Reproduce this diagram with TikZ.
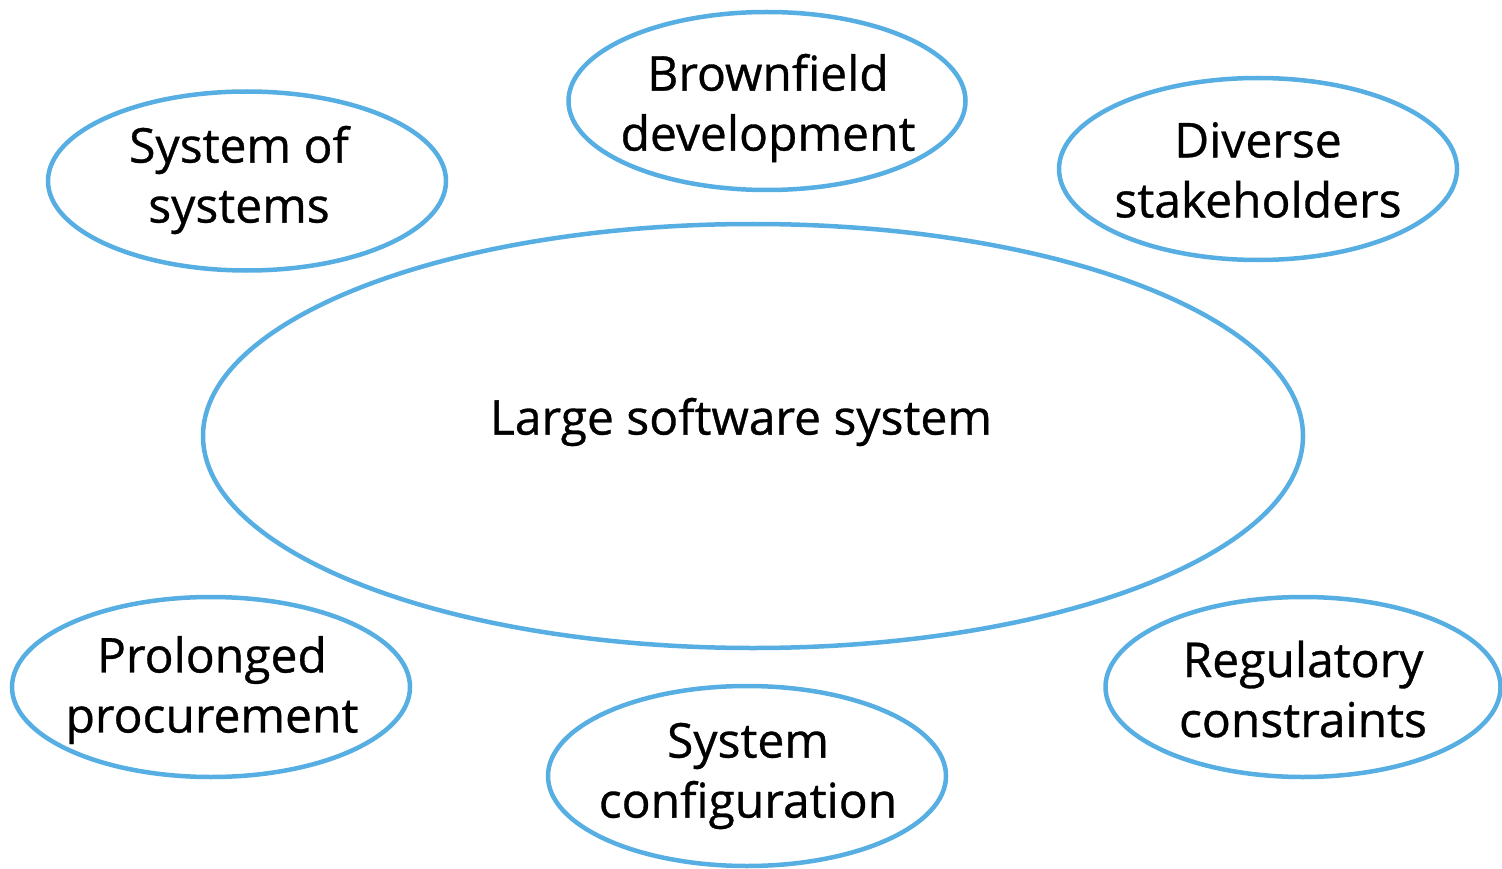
\documentclass[tikz,border=0pt]{standalone}
\usepackage{fontspec}
\setmainfont{Open Sans}[FakeBold=0.7]
\usetikzlibrary{shapes.geometric}
\definecolor{ringblue}{RGB}{86,174,226}
\tikzset{
  blob/.style={ellipse, draw=ringblue, line width=4.5pt, fill=white, inner sep=0pt},
  lbl/.style={inner sep=0pt, align=center, font=\fontsize{48}{60}\selectfont, text=black},
}
\begin{document}
\begin{tikzpicture}[x=1pt,y=-1pt]
\useasboundingbox (0,0) rectangle (1502,869);
\node[blob, minimum width=1100pt, minimum height=424pt] (big) at (753,436) {};
\node[lbl] (bigtext) at (741,422) {Large software system};
\node[blob, minimum width=397pt, minimum height=178pt] (brown) at (767,101) {};
\node[lbl] (browntext) at (768,108) {Brownfield\\development};
\node[blob, minimum width=398pt, minimum height=179pt] (sos) at (247,181) {};
\node[lbl] (sostext) at (239,180) {System of\\systems};
\node[blob, minimum width=398pt, minimum height=182pt] (div) at (1258,169) {};
\node[lbl] (divtext) at (1258,170) {Diverse\\stakeholders};
\node[blob, minimum width=398pt, minimum height=180pt] (pro) at (211,687) {};
\node[lbl] (protext) at (212,690) {Prolonged\\procurement};
\node[blob, minimum width=398pt, minimum height=180pt] (conf) at (747,776) {};
\node[lbl] (conftext) at (748,776) {System\\configuration};
\node[blob, minimum width=395pt, minimum height=180pt] (reg) at (1303,687) {};
\node[lbl] (regtext) at (1303,689) {Regulatory\\constraints};
\end{tikzpicture}
\end{document}
